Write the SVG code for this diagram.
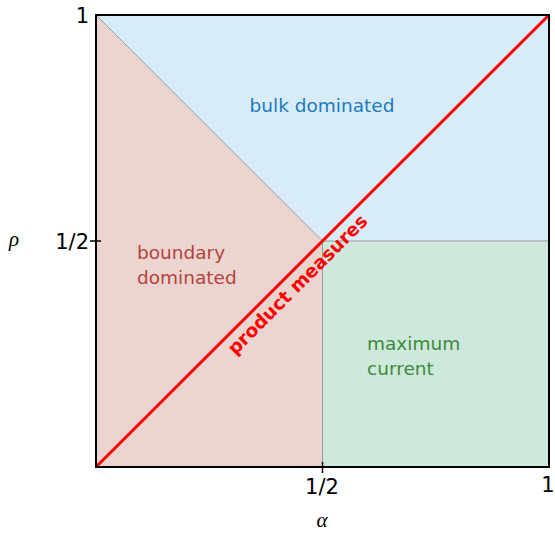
<svg xmlns="http://www.w3.org/2000/svg" width="555" height="533" viewBox="0 0 555 533">
<style>
.lbl{font-family:"DejaVu Sans","Noto Sans",sans-serif;font-size:18.5px}
.tick{font-family:"DejaVu Sans","Noto Sans",sans-serif;font-size:21px;fill:#000}
.math{font-family:"Liberation Serif","DejaVu Serif",serif;font-style:italic;font-size:21px;fill:#000}
.div{stroke:#9a9a9a;stroke-width:1;fill:none}
</style>
<g id="regions">
<polygon id="boundary" points="96,15 322.5,241 322.5,467 96,467" fill="#ecd5d1"/>
<polygon id="bulk" points="96,15 549,15 549,241 322.5,241" fill="#d8ecf7"/>
<rect id="maxcurrent" x="322.5" y="241" width="226.5" height="226" fill="#cee9dc"/>
</g>
<g id="connectors">
<path class="div" d="M96,15 L322.5,241 L549,241 M322.5,241 L322.5,467"/>
<line id="product" x1="96" y1="467" x2="549" y2="15" stroke="#ff0000" stroke-width="3"/>
<rect x="96" y="15" width="453" height="452" fill="none" stroke="#000" stroke-width="2"/>
<path d="M90,241 L101,241 M322.5,462 L322.5,473" stroke="#000" stroke-width="1.5"/>
</g>
<g id="labels">
<text class="lbl" x="322" y="112" text-anchor="middle" fill="#1a7bc0">bulk dominated</text>
<text class="lbl" x="137" y="259" fill="#b5433a">boundary</text>
<text class="lbl" x="137" y="284" fill="#b5433a">dominated</text>
<text class="lbl" x="367" y="350" fill="#3b8a3b">maximum</text>
<text class="lbl" x="367" y="375" fill="#3b8a3b">current</text>
<text class="lbl" x="302" y="289" text-anchor="middle" fill="#ff0000" font-weight="bold" font-size="16" transform="rotate(-45 302 289)">product measures</text>
</g>
<g id="axes">
<text class="tick" x="89" y="23" text-anchor="end">1</text>
<text class="tick" x="89" y="249" text-anchor="end">1/2</text>
<text class="math" x="14" y="246" text-anchor="middle">ρ</text>
<text class="tick" x="322" y="494" text-anchor="middle">1/2</text>
<text class="tick" x="548" y="492" text-anchor="middle">1</text>
<text class="math" x="322" y="527" text-anchor="middle">α</text>
</g>
</svg>
